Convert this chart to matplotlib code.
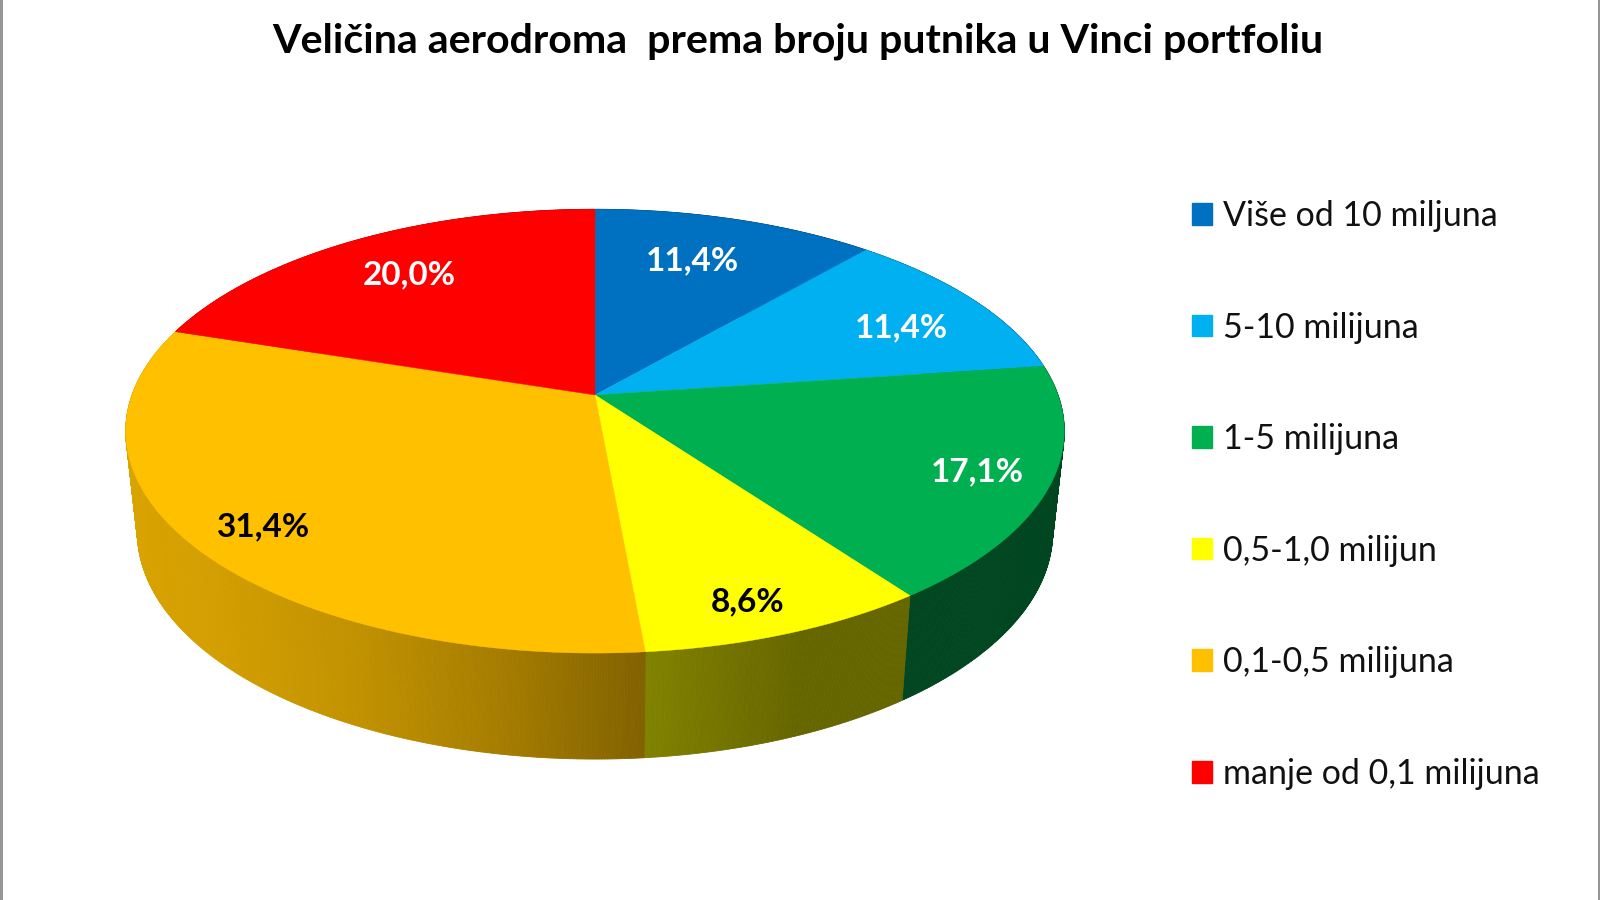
import numpy as np
import matplotlib
matplotlib.use("Agg")
import matplotlib.pyplot as plt
from matplotlib.collections import PolyCollection
from matplotlib.patches import Patch, Polygon

# --- data ---
title = "Veličina aerodroma  prema broju putnika u Vinci portfoliu"
categories = ["Više od 10 miljuna", "5-10 milijuna", "1-5 milijuna",
              "0,5-1,0 milijun", "0,1-0,5 milijuna", "manje od 0,1 milijuna"]
values = [11.4, 11.4, 17.1, 8.6, 31.4, 20.0]
value_labels = ["11,4%", "11,4%", "17,1%", "8,6%", "31,4%", "20,0%"]

# --- styles / layout ---
colors = ["#0070C0", "#00B0F0", "#00B050", "#FFFF00", "#FFC000", "#FF0000"]
label_colors = ["white", "white", "white", "black", "black", "white"]
label_xy = [(692, 261), (901, 328), (977, 472), (748, 602), (264, 527), (409, 275)]
FONT = "Lato"

# perspective model of the pie disc (figure pixels)
CX = 595.0
TOP_Y, TOP_A, TOP_B = 395.0, 463.0, 216.0
BOT_Y, BOT_A, BOT_B = 495.0, 451.5, 221.0
K = 0.163
shade_x = [125, 200, 350, 500, 643, 800, 1100]
shade_f = [0.85, 0.83, 0.76, 0.65, 0.51, 0.40, 0.40]


def project(theta, y0, a, b):
    u, v = np.sin(theta), np.cos(theta)
    d = 1 + K * v
    return CX + a * u / d, y0 - b * v / d


fig = plt.figure(figsize=(16, 9), dpi=100, facecolor="white")
ax = fig.add_axes([0, 0, 1, 1])
ax.set_xlim(0, 1600)
ax.set_ylim(900, 0)
ax.set_xticks([])
ax.set_yticks([])
for side in ("top", "bottom"):
    ax.spines[side].set_visible(False)
for side in ("left", "right"):
    ax.spines[side].set_color("#969696")
    ax.spines[side].set_linewidth(3.6)

edges = np.cumsum([0] + values) / sum(values) * 2 * np.pi

# side wall: thin quads shaded by horizontal position
for i, col in enumerate(colors):
    th = np.linspace(edges[i], edges[i + 1], int(values[i] * 12) + 2)
    xt, yt = project(th, TOP_Y, TOP_A, TOP_B)
    xb, yb = project(th, BOT_Y, BOT_A, BOT_B)
    quads, fc = [], []
    base = np.array(matplotlib.colors.to_rgb(col))
    for j in range(len(th) - 1):
        quads.append([(xt[j], yt[j]), (xt[j + 1], yt[j + 1]),
                      (xb[j + 1], yb[j + 1]), (xb[j], yb[j])])
        f = np.interp((xt[j] + xt[j + 1]) / 2, shade_x, shade_f)
        fc.append(base * f)
    ax.add_collection(PolyCollection(quads, facecolors=fc, edgecolors=fc,
                                     linewidths=0.6, zorder=2))

# top face
for i, col in enumerate(colors):
    th = np.linspace(edges[i], edges[i + 1], int(values[i] * 12) + 2)
    xt, yt = project(th, TOP_Y, TOP_A, TOP_B)
    pts = np.column_stack([np.r_[CX, xt], np.r_[TOP_Y, yt]])
    ax.add_patch(Polygon(pts, closed=True, facecolor=col, edgecolor=col,
                         linewidth=0.3, zorder=3))

for txt, c, (x, y) in zip(value_labels, label_colors, label_xy):
    ax.text(x, y, txt, color=c, ha="center", va="center", fontsize=24,
            fontweight="bold", family=FONT, zorder=4)

ax.text(798, 41, title, ha="center", va="center", fontsize=29.6,
        fontweight="bold", family=FONT, color="black")

handles = [Patch(facecolor=c, edgecolor=c, label=n) for c, n in zip(colors, categories)]
ax.legend(handles=handles, loc="upper left", bbox_to_anchor=(1192, 200),
          bbox_transform=ax.transData, frameon=False, borderpad=0, borderaxespad=0,
          prop={"family": FONT, "size": 24.5}, handlelength=0.6, handleheight=0.6,
          handletextpad=0.3, labelspacing=2.338, labelcolor="#111111")

fig.savefig("out.png", dpi=100, facecolor="white")
